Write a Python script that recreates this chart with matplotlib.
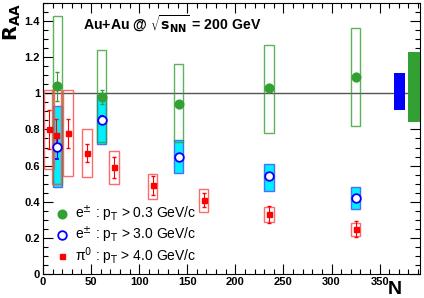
import matplotlib
matplotlib.use("Agg")
import matplotlib.pyplot as plt
from matplotlib.ticker import MultipleLocator, FormatStrFormatter

plt.rcParams['font.family'] = ['Liberation Sans', 'DejaVu Sans']

# e+- pT > 0.3 GeV/c (green)
n_e = [15, 61, 141, 235, 325]
raa_low = [1.04, 0.98, 0.94, 1.03, 1.09]
err_low = [0.08, 0.04, 0.02, 0.02, 0.02]
sys_low_lo = [0.50, 0.73, 0.73, 0.78, 0.82]
sys_low_hi = [1.43, 1.24, 1.16, 1.27, 1.36]

# e+- pT > 3.0 GeV/c (blue)
raa_high = [0.705, 0.855, 0.65, 0.54, 0.42]
err_high = [0.07, 0.02, 0.01, 0.01, 0.01]
sys_high_lo = [0.48, 0.72, 0.56, 0.46, 0.36]
sys_high_hi = [0.93, 0.99, 0.74, 0.61, 0.48]

# pi0 pT > 4.0 GeV/c (red)
n_pi = [6, 14, 26, 46, 74, 114, 167, 235, 325]
raa_pi = [0.80, 0.77, 0.78, 0.67, 0.59, 0.49, 0.41, 0.33, 0.25]
err_pi = [0.11, 0.09, 0.08, 0.05, 0.06, 0.05, 0.04, 0.045, 0.045]
sys_pi_lo = [0.58, 0.50, 0.54, 0.535, 0.50, 0.415, 0.345, 0.29, 0.21]
sys_pi_hi = [1.02, 1.02, 1.02, 0.80, 0.68, 0.555, 0.47, 0.37, 0.28]

# normalisation boxes at right
norm_n = [370.5, 385.5]
norm_lo = [0.91, 0.84]
norm_hi = [1.11, 1.23]
norm_col = ['#0000ff', '#33a033']

green = '#33a033'
box_w = 10

fig = plt.figure(figsize=(4.24, 2.98), dpi=100)
ax = fig.add_axes([0.1014, 0.0805, 0.8892, 0.9095])

ax.axhline(1.0, color='#555555', lw=1.0, zorder=1)

# systematic boxes
ax.bar(n_e, [h - l for h, l in zip(sys_high_hi, sys_high_lo)], bottom=sys_high_lo,
       width=box_w, color='#00f0ff', edgecolor='#4a6cff', lw=1.0, zorder=2)
ax.bar(n_e, [h - l for h, l in zip(sys_low_hi, sys_low_lo)], bottom=sys_low_lo,
       width=box_w, fill=False, edgecolor=green, alpha=0.8, lw=1.0, zorder=3)
ax.bar(n_pi, [h - l for h, l in zip(sys_pi_hi, sys_pi_lo)], bottom=sys_pi_lo,
       width=box_w, fill=False, edgecolor='#ff5050', alpha=0.85, lw=1.0, zorder=3)
ax.bar(norm_n, [h - l for h, l in zip(norm_hi, norm_lo)], bottom=norm_lo,
       width=12, color=norm_col, lw=0, zorder=3)

# points
c1 = ax.errorbar(n_e, raa_low, yerr=err_low, fmt='o', color=green, ms=6.2,
                 capsize=1.2, elinewidth=0.8, zorder=5)
c2 = ax.errorbar(n_e, raa_high, yerr=err_high, fmt='o', color='#0000ff', mfc='white',
                 mew=1.3, ms=6.2, capsize=1.2, elinewidth=0.8, zorder=5)
c3 = ax.errorbar(n_pi, raa_pi, yerr=err_pi, fmt='s', color='#ff0000', ms=3.6,
                 capsize=1.2, elinewidth=0.8, zorder=5)

ax.set_xlim(0, 392)
ax.set_ylim(0, 1.5)
ax.xaxis.set_major_locator(MultipleLocator(50))
ax.xaxis.set_minor_locator(MultipleLocator(10))
ax.yaxis.set_major_locator(MultipleLocator(0.2))
ax.yaxis.set_minor_locator(MultipleLocator(0.05))
ax.yaxis.set_major_formatter(FormatStrFormatter('%g'))
ax.tick_params(which='both', direction='in', top=True, right=True, width=0.8)
ax.tick_params(which='major', length=7, labelsize=8, pad=2)
ax.tick_params(which='minor', length=3.5)
for lab in ax.get_xticklabels() + ax.get_yticklabels():
    lab.set_fontweight('bold')
for sp in ax.spines.values():
    sp.set_linewidth(0.8)

ax.text(0.106, 0.92, r'Au+Au @ $\sqrt{\mathbf{s}_{\mathbf{NN}}}$ = 200 GeV',
        transform=ax.transAxes, fontsize=10.2, fontweight='bold', va='center')

fig.text(0.03, 0.99, r'$\mathbf{R}_{\mathbf{AA}}$', rotation=90, fontsize=14,
         va='top', ha='center')
fig.text(0.93, 0.0, 'N', fontsize=14, fontweight='bold', va='bottom', ha='center')

labels = [r'e$^{\pm}$ : p$_{\rm T}$ > 0.3 GeV/c',
          r'e$^{\pm}$ : p$_{\rm T}$ > 3.0 GeV/c',
          r'π$^{0}$ : p$_{\rm T}$ > 4.0 GeV/c']
ax.legend([c1[0], c2[0], c3[0]], labels, loc='lower left',
          bbox_to_anchor=(0.035, 0.025), frameon=False,
          fontsize=10, handlelength=0.8, handletextpad=0.55,
          labelspacing=0.04, borderpad=0, borderaxespad=0, numpoints=1)

fig.savefig('out.png', dpi=100)
